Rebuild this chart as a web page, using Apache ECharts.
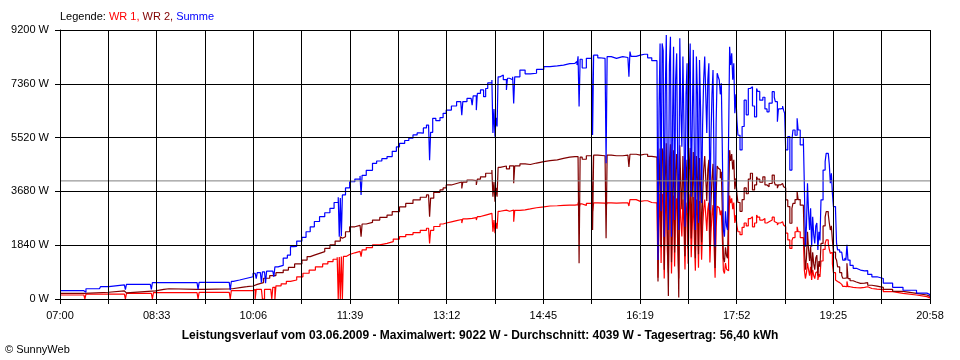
<!DOCTYPE html>
<html>
<head>
<meta charset="utf-8">
<script src="https://cdn.jsdelivr.net/npm/echarts@6/dist/echarts.min.js"></script>
<style>html,body{margin:0;padding:0;background:#fff}#c{width:960px;height:360px}</style>
</head>
<body>
<div id="c"></div>
<script>
// Time axis: minutes after 07:00 (07:00 .. 20:58 = 838 minutes)
const timeLabels = ['07:00','08:33','10:06','11:39','13:12','14:45','16:19','17:52','19:25','20:58'];
const dayMinutes = 838;
const yMax = 9200;
const yStep = 1840;
const average = 4039;
const caption = 'Leistungsverlauf vom 03.06.2009 - Maximalwert: 9022 W - Durchschnitt: 4039 W - Tagesertrag: 56,40 kWh';

// WR 1 [minute, W]
const wr1 = [
[0,137],[23,137],[24,0],[25,170],[62,170],[63,0],[64,195],[88,195],[89,0],[90,215],[132,215],[133,0],[134,230],[163,230],[164,0],[165,285],[186,285],[187,330],[188,0],[189,330],[194,330],[195,0],[196,0],[197,330],[203,350],[204,0],[205,400],[206,400],[207,0],[208,450],[213,520],[218,600],[222,650],[228,760],[234,880],[240,990],[246,1100],[253,1200],[258,1280],[263,1360],[267,1430],[268,0],[269,1440],[270,0],[271,1450],[272,0],[273,1460],[276,1520],[279,1580],
[284,1630],[289,1680],[290,1450],[291,1680],[295,1760],[301,1850],[308,1900],[315,1960],[321,2050],[327,2130],[333,2200],[340,2270],[347,2350],[353,2420],[355,2420],[356,1900],[357,2350],[360,2480],[366,2565],[369,2600],[372,2640],
[377,2680],[382,2720],[387,2600],[388,2740],[392,2760],[397,2780],[401,2700],[402,2820],[405,2870],[410,2930],[416,2990],[417,2300],[418,2700],[419,2250],[420,2600],[421,2400],[422,3000],[424,3040],[430,3000],[433,3040],[437,2640],[438,3030],[443,3050],[448,3080],[453,3120],[459,3150],[466,3180],
[472,3190],[479,3200],[485,3210],[491,3210],[496,3230],[499,3300],[500,3100],[501,3250],[503,3200],[507,3270],[512,3290],[513,3000],[514,3290],[518,3280],[525,3290],[526,3200],[527,3290],[531,3280],[536,3290],[542,3290],[547,3300],[548,3180],[549,3400],[555,3340],[559,3360],
[563,3360],[566,3300],[570,3290],[575,3290],
[576,730],[577,2660],[578,3590],[579,1230],[580,3590],[581,3480],[582,700],[583,2870],[584,3700],[585,1640],[586,900],[587,3280],[588,3680],[589,870],[590,2460],[591,3540],[592,1110],[593,3070],[594,3440],[595,1840],[596,700],[597,3660],[598,2660],[599,2140],[600,3400],[601,2460],[602,1010],[603,2870],[604,3300],[605,1210],[606,3070],[607,3580],[608,1430],[609,2460],[610,3490],[611,2050],[612,970],[613,3400],[614,2870],[615,1070],[616,3350],[617,2660],[618,1340],[619,2460],[620,3070],[621,3400],[622,2870],[623,2330],[624,3070],[625,3300],[626,1250],[627,2250],[628,2870],[629,3210],[630,1840],[631,730],[632,2460],[633,3170],[634,3120],[635,3070],[636,2870],[637,3030],[638,2050],[639,970],[640,870],[641,1230],[642,1020],[643,970],[644,2250],[645,3540],[646,3280],[647,3440],[648,3070],[649,3300],[650,2600],[651,2870],[652,2510],
[653,2300],[655,2200],[657,2450],[659,2600],[661,2500],[663,2750],[665,2815],[667,2470],[669,2600],[671,2870],[672,2800],[674,2700],[677,2750],[679,2600],[681,2640],[683,2700],[686,2800],[688,2650],[689,2600],[691,2530],[692,2600],[694,2640],[696,2600],[697,2530],[698,2470],[699,2250],[701,2020],[703,1730],[705,2000],[706,2100],[708,2300],[710,2470],[711,2300],[713,2100],[716,2150],[717,990],[718,700],[719,900],[720,1230],[721,1000],[722,800],[723,1100],[724,650],[725,1000],[726,800],[727,700],[728,900],[729,950],[730,650],[731,850],[732,750],[733,1300],[735,1700],[737,1900],[738,2020],[740,1900],[741,1700],[742,1560],[743,1600],[744,1200],[745,900],[747,650],[748,600],[749,560],[751,500],[753,470],[754,430],[756,420],[757,420],[758,600],[759,420],[761,400],[764,390],[767,380],[771,400],[775,420],[778,360],[782,340],[787,320],[793,250],[802,190],[812,137],[825,80],[835,40],[838,25]
];

// WR 2 [minute, W]
const wr2 = [
[0,195],[23,195],[24,230],[47,230],[48,275],[62,275],[63,210],[64,275],[92,275],[93,330],[100,350],[105,330],[132,330],[138,345],[163,350],[166,400],[175,420],[180,445],[186,500],
[190,560],[196,710],[202,800],[208,900],[215,990],[220,1080],[226,1200],[233,1330],[238,1450],[241,1500],[245,1560],[250,1620],[255,1730],[260,1850],[265,1980],[270,2130],[271,2080],[272,2130],[275,2300],[279,2470],
[284,2520],[289,2565],[290,2130],[291,2565],[295,2620],[301,2700],[308,2790],[315,2870],[320,2990],[327,3150],[333,3270],[340,3390],[347,3480],[353,3560],[355,3560],[356,2815],[357,3450],[360,3650],[366,3730],[369,3800],[372,3900],
[377,3950],[382,4000],[387,3780],[388,4000],[392,4070],[397,4050],[401,3900],[402,4100],[405,4180],[410,4300],[416,4410],[417,3500],[418,4000],[419,3330],[420,3800],[421,3500],[422,4500],[424,4550],[430,4450],[433,4550],[437,3960],[438,4550],[443,4620],[448,4600],[453,4650],[459,4700],[466,4730],
[472,4760],[479,4810],[485,4850],[491,4870],[496,4870],[499,4900],[500,1220],[501,4850],[503,4780],[507,4900],[512,4920],[513,2360],[514,4920],[518,4900],[525,4920],[526,2075],[527,4920],[531,4900],[536,4900],[542,4920],[547,4920],[548,4520],[549,4950],[555,4920],[559,4950],
[563,4950],[566,4880],[570,4850],[575,4850],
[576,600],[577,3840],[578,5150],[579,1770],[580,5150],[581,5020],[582,1000],[583,4130],[584,5330],[585,2360],[586,100],[587,4720],[588,5290],[589,1260],[590,3540],[591,5090],[592,1590],[593,4430],[594,4960],[595,2660],[596,50],[597,5260],[598,3840],[599,3070],[600,4890],[601,3540],[602,1460],[603,4130],[604,4760],[605,1730],[606,4430],[607,5160],[608,2070],[609,3540],[610,5030],[611,2950],[612,1390],[613,4890],[614,4130],[615,1530],[616,4820],[617,3840],[618,1940],[619,3540],[620,4430],[621,4890],[622,4130],[623,3350],[624,4430],[625,4760],[626,1790],[627,3250],[628,4130],[629,4620],[630,2660],[631,1060],[632,3540],[633,4550],[634,4480],[635,4420],[636,4130],[637,4350],[638,2950],[639,1390],[640,1260],[641,1770],[642,1480],[643,1390],[644,3250],[645,5090],[646,4720],[647,4960],[648,4430],[649,4760],[650,3750],[651,4130],[652,3610],
[653,3300],[655,3000],[657,3400],[659,3800],[661,3600],[663,4100],[665,4300],[667,3730],[669,3900],[671,4180],[672,4100],[674,4000],[677,4180],[679,3900],[681,3840],[683,3950],[686,4240],[688,4000],[689,3900],[691,3790],[692,3900],[694,3950],[696,3900],[697,3840],[698,3800],[699,3390],[701,3160],[703,2590],[705,3100],[706,3270],[708,3400],[710,3670],[711,3400],[713,3210],[716,3250],[717,1790],[718,1000],[719,1400],[720,2300],[721,1700],[722,1300],[723,1800],[724,900],[725,1600],[726,1200],[727,1000],[728,1400],[729,1500],[730,800],[731,1300],[732,1100],[733,1900],[735,2500],[737,2800],[738,2990],[740,2900],[741,2600],[742,2360],[743,2500],[744,2000],[745,1600],[747,1400],[748,1330],[749,1100],[751,900],[753,800],[754,710],[756,760],[757,720],[758,1220],[759,700],[761,625],[764,580],[767,535],[771,540],[775,560],[778,470],[782,440],[787,400],[793,330],[802,260],[812,195],[825,137],[835,90],[838,70]
];

// Summe [minute, W]
const summe = [
[0,285],[23,285],[24,230],[25,350],[38,380],[39,420],[47,420],[48,480],[62,480],[63,320],[64,500],[87,500],[88,330],[89,560],[132,560],[133,330],[134,570],[163,570],[164,300],[165,600],[167,650],[173,710],[180,760],[186,880],[188,880],[189,700],[190,900],
[193,920],[194,560],[195,930],[197,930],[198,540],[199,950],[205,980],[206,760],[207,1100],[210,1150],[215,1400],[219,1500],[222,1790],[225,1800],[228,1980],[233,2110],[237,2300],[241,2470],[245,2650],[250,2815],[255,2950],[260,3100],[264,3300],[268,3480],[269,2130],[270,3450],[271,2150],[272,3560],[275,3800],[279,4010],
[284,4100],[289,4210],[290,3560],[291,4230],[295,4400],[301,4640],[305,4720],[310,4800],[315,4870],[320,5050],[324,5200],[327,5320],[332,5420],[336,5500],[340,5610],[344,5680],[347,5670],[350,5850],[353,5950],[355,5950],[356,4750],[357,5700],[359,6180],[362,6100],[366,6200],[369,6350],[372,6460],
[377,6600],[382,6750],[386,6700],[387,6290],[388,6750],[392,6860],[396,6900],[397,6630],[398,6950],[401,6460],[402,7030],[405,7150],[408,6920],[410,7200],[412,7390],[416,7490],[417,5680],[418,6500],[419,5550],[420,6200],[421,5900],[422,7600],[424,7660],[427,7500],[430,7150],[431,7550],[433,7500],[436,7600],[437,6690],[438,7600],[443,7830],[448,7700],[453,7720],[459,7850],[466,7950],
[472,7970],[479,8000],[485,8050],[491,8060],[496,8120],[498,8000],[499,8300],[500,6580],[501,8200],[503,7900],[507,8230],[512,8340],[513,5610],[514,8340],[518,8250],[520,8230],[525,8290],[526,4640],[527,8290],[531,8230],[536,8290],[542,8260],[547,8290],[548,7600],[549,8460],[550,8300],[555,8340],[559,8370],
[563,8370],[566,8250],[570,8150],[575,8150],
[576,1330],[577,6500],[578,8740],[579,3000],[580,8740],[581,8500],[582,2130],[583,7000],[584,9030],[585,4000],[586,2360],[587,8000],[588,8970],[589,2130],[590,6000],[591,8630],[592,2700],[593,7500],[594,8400],[595,4500],[596,2360],[597,8920],[598,6500],[599,5210],[600,8290],[601,6000],[602,2470],[603,7000],[604,8060],[605,2940],[606,7500],[607,8740],[608,3500],[609,6000],[610,8520],[611,5000],[612,2360],[613,8290],[614,7000],[615,2600],[616,8170],[617,6500],[618,3280],[619,6000],[620,7500],[621,8290],[622,7000],[623,5680],[624,7500],[625,8060],[626,3040],[627,5500],[628,7000],[629,7830],[630,4500],[631,1790],[632,6000],[633,7720],[634,7600],[635,7490],[636,7000],[637,7380],[638,5000],[639,2360],[640,2130],[641,3000],[642,2500],[643,2360],[644,5500],[645,8630],[646,8000],[647,8400],[648,7500],[649,8060],[650,6350],[651,7000],[652,6120],
[653,5600],[655,5100],[657,5900],[659,6800],[661,6300],[663,7200],[665,7260],[667,6600],[669,6230],[671,7200],[672,7100],[674,6800],[677,6900],[679,6500],[681,6400],[683,6700],[686,7090],[688,6900],[689,6750],[691,6060],[692,6500],[694,6520],[696,6600],[697,6450],[698,6350],[699,5100],[701,5550],[703,4410],[705,5440],[706,5780],[708,5600],[710,6180],[711,5780],[713,5270],[716,5500],[717,3840],[718,1790],[719,2500],[720,3960],[721,3000],[722,2360],[723,3100],[724,1790],[725,2810],[726,2200],[727,1900],[728,2500],[729,2600],[730,1680],[731,2300],[732,2000],[733,3390],[735,4410],[737,4700],[738,4980],[740,4950],[741,4600],[742,3960],[743,4300],[744,3610],[745,3160],[747,3040],[748,1900],[749,1680],[751,1600],[753,1560],[754,1330],[756,1400],[757,1330],[758,1850],[759,1330],[761,1150],[764,1050],[767,990],[771,960],[775,970],[778,840],[782,760],[787,700],[793,540],[802,400],[812,300],[825,200],[835,150],[838,90]
];

const FONT = '"Liberation Sans", Arial, sans-serif';
const LW = 1.2;
const chart = echarts.init(document.getElementById('c'), null, {renderer: 'canvas'});
const step = dayMinutes / 18;
chart.setOption({
  animation: false,
  backgroundColor: '#ffffff',
  textStyle: {fontFamily: FONT},
  title: [
    {
      left: 60, top: 11, padding: 0,
      text: '{k|Legende: }{a|WR 1, }{b|WR 2, }{c|Summe}',
      textStyle: {
        fontSize: 11, fontWeight: 'normal',
        rich: {
          k: {color: '#000000', fontSize: 11, fontFamily: FONT},
          a: {color: '#ff0000', fontSize: 11, fontFamily: FONT},
          b: {color: '#800000', fontSize: 11, fontFamily: FONT},
          c: {color: '#0000ff', fontSize: 11, fontFamily: FONT}
        }
      }
    },
    {
      left: 'center', top: 330, padding: 0,
      text: caption,
      textStyle: {fontSize: 12, fontWeight: 'bold', color: '#000', fontFamily: FONT}
    },
    {
      left: 5, top: 344, padding: 0,
      text: '\u00a9 SunnyWeb',
      textStyle: {fontSize: 11, fontWeight: 'normal', color: '#000', fontFamily: FONT}
    }
  ],
  grid: {left: 60, right: 30, top: 30, bottom: 61, containLabel: false},
  xAxis: {
    type: 'value', min: 0, max: dayMinutes, interval: step, z: 5,
    axisLine: {show: true, lineStyle: {color: '#000', width: 1}},
    axisTick: {show: true, length: 5, lineStyle: {color: '#000', width: 1}},
    splitLine: {show: true, lineStyle: {color: '#000', width: 1}},
    axisLabel: {
      show: true, interval: 0, color: '#000', fontSize: 11, fontFamily: FONT, margin: 11,
      showMinLabel: true, showMaxLabel: true,
      formatter: function (v) {
        const k = v / (dayMinutes / 9);
        const r = Math.round(k);
        return Math.abs(k - r) < 0.02 ? (timeLabels[r] || '') : '';
      }
    }
  },
  yAxis: {
    type: 'value', min: 0, max: yMax, interval: yStep, z: 5,
    axisLine: {show: true, lineStyle: {color: '#000', width: 1}},
    axisTick: {show: true, length: 5, lineStyle: {color: '#000', width: 1}},
    splitLine: {show: true, lineStyle: {color: '#000', width: 1}},
    axisLabel: {color: '#000', fontSize: 11, fontFamily: FONT, margin: 11,
      formatter: function (v) { return String(Math.round(v)) + ' W'; }}
  },
  series: [
    {name: 'WR 1', type: 'line', data: wr1, step: 'end', symbol: 'none', showSymbol: false, z: 2,
     lineStyle: {color: '#ff0000', width: LW}, itemStyle: {color: '#ff0000'}, silent: true},
    {name: 'WR 2', type: 'line', data: wr2, step: 'end', symbol: 'none', showSymbol: false, z: 2,
     lineStyle: {color: '#800000', width: LW}, itemStyle: {color: '#800000'}, silent: true},
    {name: 'Summe', type: 'line', data: summe, step: 'end', symbol: 'none', showSymbol: false, z: 2,
     lineStyle: {color: '#0000ff', width: LW}, itemStyle: {color: '#0000ff'}, silent: true},
    {name: 'Durchschnitt', type: 'line', data: [[0, average], [dayMinutes, average]], symbol: 'none', showSymbol: false, z: 3,
     lineStyle: {color: '#808080', width: 1}, silent: true}
  ]
});
</script>
</body>
</html>
